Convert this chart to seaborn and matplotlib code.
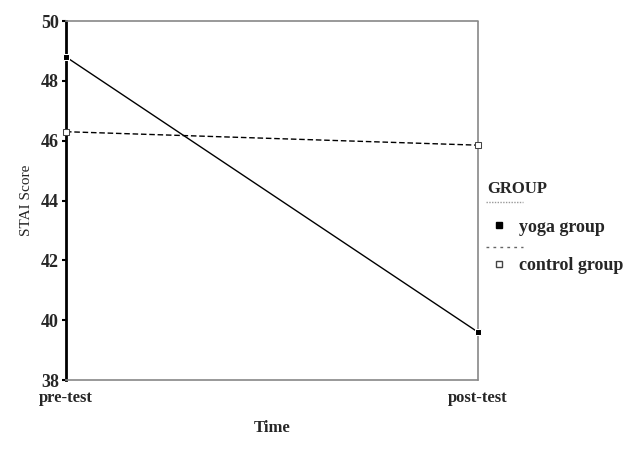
import matplotlib
matplotlib.use("Agg")
import matplotlib.pyplot as plt
import seaborn as sns
import pandas as pd
from matplotlib.lines import Line2D

time_labels = ["pre-test", "post-test"]
groups = ["yoga group", "control group"]
yoga_scores = [48.8, 39.6]
control_scores = [46.3, 45.85]
y_ticks = [38, 40, 42, 44, 46, 48, 50]

df = pd.DataFrame({
    "Time": time_labels * 2,
    "GROUP": [groups[0]] * 2 + [groups[1]] * 2,
    "Score": yoga_scores + control_scores,
})

sns.set_theme(style="white")
plt.rcParams['font.family'] = ['Liberation Serif', 'DejaVu Serif']

fig = plt.figure(figsize=(6.43, 4.55), dpi=100)
ax = fig.add_axes([0.1026, 0.1648, 0.6408, 0.789])

sns.lineplot(data=df, x="Time", y="Score", hue="GROUP", style="GROUP",
             palette=["black", "black"], dashes={groups[0]: "", groups[1]: (4, 2)},
             markers={groups[0]: "s", groups[1]: "s"}, markersize=5,
             linewidth=1.0, ax=ax, legend=False)
lines = ax.get_lines()
for ln in lines:
    ln.set_clip_on(False)
    ln.set_zorder(5)
if len(lines) >= 2:
    lines[1].set_markerfacecolor("white")
    lines[1].set_markeredgecolor("#444444")

ax.set_xlim(0, 1)
ax.set_ylim(38, 50)
ax.set_yticks(y_ticks)
ax.set_yticklabels([str(t) for t in y_ticks], fontsize=13, fontweight="bold")
ax.set_xticks([0, 1])
ax.set_xticklabels(time_labels, fontsize=12, fontweight="bold")
ax.tick_params(axis="y", direction="out", length=3, width=1.5, color="black", pad=2, left=True)
ax.tick_params(axis="x", length=0, pad=7)

for s in ["top", "right", "bottom"]:
    ax.spines[s].set_color("#888888")
    ax.spines[s].set_linestyle((0, (1, 1)))
    ax.spines[s].set_linewidth(1.2)
ax.spines["left"].set_color("black")
ax.spines["left"].set_linewidth(2)

ax.set_ylabel("STAI Score", fontsize=11, labelpad=6)
ax.set_xlabel("Time", fontsize=12, fontweight="bold", labelpad=10)

handles = [
    Line2D([], [], color="black", linewidth=0, marker="s", markersize=5,
           markerfacecolor="black"),
    Line2D([], [], color="black", linewidth=0, marker="s", markersize=5,
           markerfacecolor="white", markeredgecolor="#444444"),
]
leg = ax.legend(handles, groups, title="GROUP", loc="upper left",
                bbox_to_anchor=(0.995, 0.585), frameon=False, fontsize=13,
                title_fontsize=12, handlelength=1.3, handletextpad=0.5,
                labelspacing=1.2, alignment="left", borderaxespad=0.2)
leg.get_title().set_fontweight("bold")
for t in leg.get_texts():
    t.set_fontweight("bold")
fig.add_artist(Line2D([486 / 643, 523 / 643], [1 - 202 / 455, 1 - 202 / 455],
                      color="#999999", linewidth=1.0, linestyle=(0, (1, 1))))
fig.add_artist(Line2D([486 / 643, 523 / 643], [1 - 247 / 455, 1 - 247 / 455],
                      color="#666666", linewidth=1.0, linestyle=(0, (2, 3))))

fig.savefig("out.png", dpi=100)
